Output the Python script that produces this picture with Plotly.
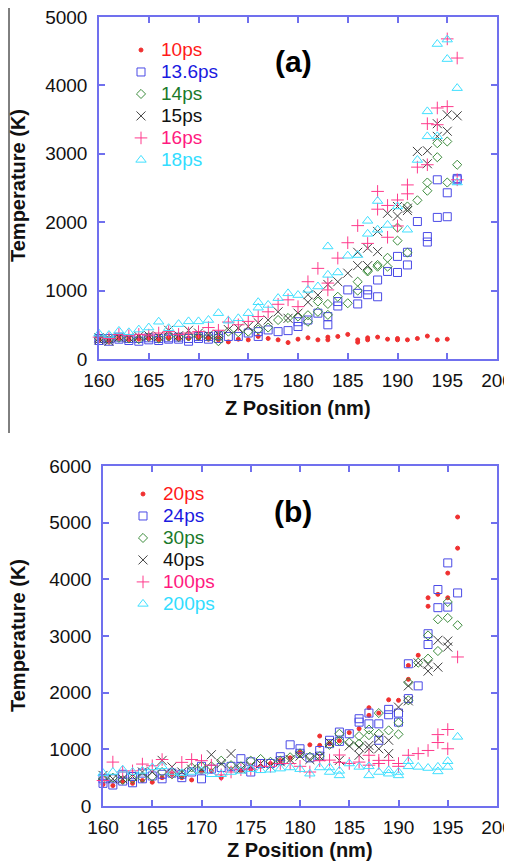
import plotly.graph_objects as go

# ---------------- Panel (a) data ----------------
z_10 = [160,160,161,161,162,162,163,163,164,164,165,165,166,166,167,167,168,168,169,169,170,170,171,171,172,172,173,174,175,176,177,178,179,180,181,182,183,183,184,185,186,186,187,187,188,189,190,190,191,192,193,194,195]
t_10 = [280,300,260,290,300,320,280,310,290,320,300,330,280,310,300,320,290,320,310,300,300,330,290,320,280,310,250,290,280,330,300,280,240,290,310,280,320,280,330,360,280,245,310,280,320,290,300,280,280,300,335,280,290]

z_136 = [160,160,161,161,162,162,163,163,164,164,165,165,166,166,167,167,168,168,169,169,170,170,171,171,172,172,173,174,175,176,176,177,178,179,180,180,181,182,183,183,184,184,185,186,186,187,187,188,188,189,190,190,191,191,192,193,193,194,194,195,195,196,196]
t_136 = [270,300,260,300,290,320,270,300,260,300,280,310,270,300,290,310,290,320,260,300,300,330,290,330,300,340,330,330,380,330,400,425,400,415,545,475,570,670,620,500,840,775,1010,960,805,1010,940,1155,910,1280,1500,1265,1560,1375,2010,1790,1710,2620,2070,2430,2080,2640,2620]

z_14 = [160,161,162,163,164,165,166,167,168,169,170,171,172,172,173,174,175,176,177,178,179,180,181,181,182,182,183,183,184,185,186,186,187,187,188,188,189,189,190,190,191,191,192,193,193,194,194,195,195,196]
t_14 = [300,280,310,300,290,320,300,330,320,330,340,330,260,330,400,390,400,430,460,570,600,620,545,640,840,690,805,645,910,815,1130,1000,1300,1280,1375,1350,1480,1350,1920,1730,2230,1555,2320,2580,2460,3155,2950,3180,2580,2840]

z_15 = [160,160,161,161,162,163,164,165,166,167,168,169,170,171,172,173,174,175,176,177,178,179,180,181,181,182,183,184,185,186,186,187,187,188,188,189,190,190,191,191,192,193,193,194,194,195,195,196]
t_15 = [310,280,260,300,320,310,330,340,330,420,340,420,380,350,360,430,450,475,530,570,690,595,670,830,940,935,1090,1130,1255,1560,1365,1620,1365,1865,1570,2130,2230,2090,2205,2170,3035,3045,2855,3440,3255,3570,3330,3555]

z_16 = [160,161,162,163,164,165,166,167,168,169,170,171,172,173,174,175,176,177,178,179,180,181,182,183,183,184,185,186,187,188,188,189,189,190,190,191,191,192,193,193,194,194,195,195,196,196]
t_16 = [320,300,360,340,360,350,380,400,360,380,400,460,420,540,500,550,620,690,800,865,765,1130,1325,1010,1110,1475,1700,1950,1690,2450,2190,2245,1780,2325,1945,2545,2415,2805,3440,2840,3670,3425,4680,3690,4400,2620]

z_18 = [160,161,162,163,164,165,166,167,168,169,170,171,172,173,174,175,176,176,177,178,179,180,181,182,183,183,184,185,186,187,187,188,188,189,190,191,192,193,193,194,194,195,195,196,196]
t_18 = [370,350,410,390,430,460,545,450,510,550,550,570,670,560,595,670,830,750,790,890,960,935,1010,1060,1645,1230,1265,1510,1520,2020,1830,2310,1890,1960,2230,1890,2910,3620,3255,4605,3255,4670,4385,3960,2580]

# ---------------- Panel (b) data ----------------
z_20 = [160,161,162,163,164,165,166,167,168,169,170,171,172,173,174,175,176,177,178,179,180,181,182,182,183,184,185,186,187,187,188,189,190,191,191,192,193,193,194,195,195,196,196]
t_20 = [380,360,430,400,450,420,500,560,500,460,600,620,500,650,620,650,700,750,800,850,950,1080,1235,1070,1100,1150,1295,1365,1735,1600,1640,1875,1865,2480,2235,2660,3675,3525,3735,4110,3675,5100,4550]

z_24 = [160,160,161,161,162,162,163,163,164,164,165,166,166,167,168,168,169,170,170,171,172,173,174,174,175,175,176,177,178,178,179,180,180,181,182,182,183,183,184,184,185,186,186,187,187,188,188,189,189,190,190,191,191,192,193,193,194,194,195,195,196]
t_24 = [400,480,370,480,440,560,410,520,480,580,530,480,560,580,500,560,600,480,700,650,680,700,835,700,600,780,750,750,870,800,1080,1010,930,850,980,880,1160,1100,1305,1140,1275,1540,1480,1640,1450,1450,1160,1705,1610,1640,1480,2510,1895,2120,3040,2850,3820,3500,4290,3510,3760]

z_30 = [160,161,162,163,164,165,166,167,168,169,170,171,172,173,174,175,176,177,178,179,180,181,182,183,184,184,185,186,186,187,187,188,188,189,190,190,191,191,192,193,193,194,194,195,195,196]
t_30 = [480,500,460,480,500,520,600,560,560,680,700,700,800,720,700,800,830,780,800,860,930,870,880,1080,1275,1150,1120,1235,1100,1350,1250,1640,1275,1335,1470,1265,2180,1865,2530,3010,2600,3295,2735,3600,3320,3190]

z_40 = [160,161,162,163,164,165,166,167,168,169,170,171,172,173,174,175,176,177,178,179,180,181,182,183,184,185,186,186,187,187,188,188,189,189,190,191,191,192,193,193,194,194,195,195]
t_40 = [540,480,480,520,600,600,805,690,600,650,650,905,750,925,650,700,750,700,780,820,880,820,870,1120,805,1060,1040,895,1070,1010,1190,1010,1160,925,1745,2120,1855,2525,2500,2380,2925,2450,2910,2805]

z_100 = [160,161,162,163,164,165,166,167,168,169,170,171,172,173,174,175,176,177,178,179,180,181,182,183,184,184,185,186,187,187,188,188,189,190,190,191,192,193,194,194,195,195,196]
t_100 = [450,775,600,620,740,710,820,600,770,820,800,720,550,600,640,650,700,700,750,750,700,600,800,810,900,770,750,775,895,720,805,750,805,750,700,895,925,980,1260,1120,1350,1010,2630]

z_200 = [160,161,162,163,164,165,166,167,168,169,170,171,172,173,174,175,176,177,178,179,180,181,182,183,183,184,184,185,186,187,187,188,189,189,190,190,191,191,192,193,194,194,195,195,196]
t_200 = [580,600,640,600,620,680,700,600,580,600,620,560,560,600,620,650,630,640,660,680,650,570,680,600,680,540,620,750,690,540,700,600,630,570,540,600,790,700,690,670,690,610,790,690,1220]

labels_a = ["10ps", "13.6ps", "14ps", "15ps", "16ps", "18ps"]
labels_b = ["20ps", "24ps", "30ps", "40ps", "100ps", "200ps"]
x_ticks = [160, 165, 170, 175, 180, 185, 190, 195, 200]

series_a = [(z_10, t_10), (z_136, t_136), (z_14, t_14), (z_15, t_15), (z_16, t_16), (z_18, t_18)]
series_b = [(z_20, t_20), (z_24, t_24), (z_30, t_30), (z_40, t_40), (z_100, t_100), (z_200, t_200)]

marker_colors = ["#f03030", "#4a4ae6", "#3c8c3c", "#404040", "#ff3a8c", "#40e0ff"]
text_colors = ["#ff1a1a", "#1a1ae0", "#1a7a2a", "#111111", "#ff1a80", "#33ddff"]
symbols = ["circle", "square-open", "diamond-open", "x-thin-open", "cross-thin-open", "triangle-up-open"]
sizes = [4, 8, 7, 9, 9, 9]

# page offset of the figure (browser body margin) and figure size
OFF = 8
W, H = 512 - OFF, 864 - OFF

def px(x):
    return (x - OFF) / W

def py(y):
    return 1 - (y - OFF) / H

fig = go.Figure()

def add_series(series, labels, xa, ya, leg):
    for i, ((zx, ty), lab) in enumerate(zip(series, labels)):
        fig.add_trace(go.Scatter(
            x=zx, y=ty, mode="markers", xaxis=xa, yaxis=ya,
            name='<span style="color:%s;font-size:19px">%s</span>' % (text_colors[i], lab),
            legend=leg, cliponaxis=False,
            marker=dict(symbol=symbols[i], size=sizes[i], color=marker_colors[i],
                        line=dict(width=1, color=marker_colors[i])),
        ))

add_series(series_a, labels_a, "x", "y", "legend")
add_series(series_b, labels_b, "x2", "y2", "legend2")

frame = "#7070ee"
tickfont = dict(family="Liberation Sans, Arial", size=19, color="#111111")

def ax(domain, rng, dtick, anchor, standoff):
    return dict(domain=domain, range=rng, dtick=dtick, anchor=anchor, automargin=False,
                showline=True, linecolor=frame, linewidth=1.5, mirror="ticks",
                ticks="inside", ticklen=6, tickcolor=frame, tickwidth=1.5,
                ticklabelstandoff=standoff, ticklabeloverflow="allow",
                showgrid=False, zeroline=False, tickfont=tickfont)

legfont = dict(family="Liberation Sans, Arial", size=14.6)
fig.update_layout(
    width=W, height=H, margin=dict(l=0, r=0, t=0, b=0, autoexpand=False),
    paper_bgcolor="white", plot_bgcolor="white",
    xaxis=ax([px(99), px(497)], [160, 200], 5, "y", 3),
    yaxis=ax([py(359), py(17)], [0, 5000], 1000, "x", 6),
    xaxis2=ax([px(103), px(497)], [160, 200], 5, "y2", 3),
    yaxis2=ax([py(806), py(466)], [0, 6000], 1000, "x2", 6),
    legend=dict(x=px(121), y=py(34), xanchor="left", yanchor="top",
                bgcolor="rgba(0,0,0,0)", font=legfont),
    legend2=dict(x=px(123), y=py(478), xanchor="left", yanchor="top",
                 bgcolor="rgba(0,0,0,0)", font=legfont),
    showlegend=True,
)
fig.update_xaxes(tickvals=x_ticks)

title_font = dict(family="Liberation Sans, Arial", size=20, color="#111111")
ann = [
    dict(text="<b>Temperature (K)</b>", x=px(18), y=py(186), textangle=-90),
    dict(text="<b>Z Position (nm)</b>", x=px(298), y=py(408)),
    dict(text="<b>Temperature (K)</b>", x=px(18), y=py(636), textangle=-90),
    dict(text="<b>Z Position (nm)</b>", x=px(300), y=py(850)),
]
for a in ann:
    fig.add_annotation(xref="paper", yref="paper", showarrow=False,
                       xanchor="center", yanchor="middle", font=title_font, **a)
for txt, yy in [("<b>(a)</b>", 62), ("<b>(b)</b>", 512)]:
    fig.add_annotation(text=txt, xref="paper", yref="paper", x=px(293), y=py(yy),
                       showarrow=False, xanchor="center", yanchor="middle",
                       font=dict(family="Liberation Sans, Arial", size=30, color="#000000"))

fig.add_shape(type="line", xref="paper", yref="paper", x0=px(9), x1=px(9),
              y0=py(433), y1=py(7), line=dict(color="black", width=1))

fig.write_html("out.html")
